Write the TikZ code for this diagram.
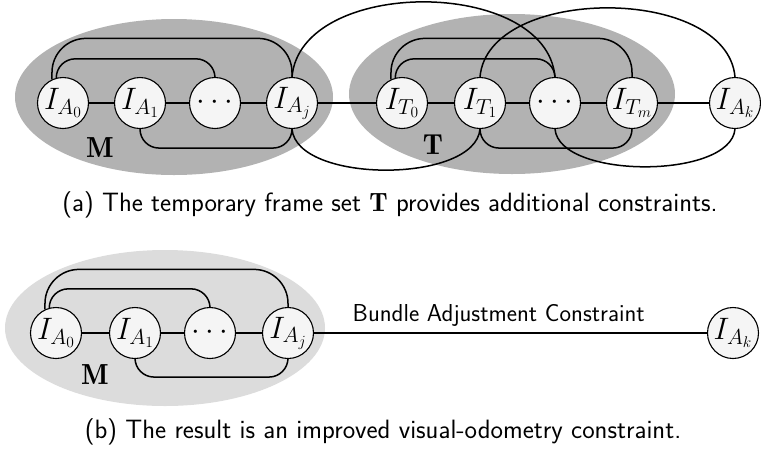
\RequirePackage{fix-cm}
\documentclass[tikz,border=0pt]{standalone}
\usepackage{fontspec}
\definecolor{setgray}{HTML}{B2B2B2}
\definecolor{setlight}{HTML}{DCDCDC}

\begin{document}
\begin{tikzpicture}[
        x=1pt,y=1pt,
        frame/.style={circle,minimum size=51pt,inner sep=0pt,draw=black,
          line width=1.1pt,fill=white!96!black,font=\fontsize{31}{34}\selectfont},
        link/.style={draw=black,line width=1.5pt},
        setlabel/.style={font=\fontsize{29}{32}\selectfont},
        caption/.style={font=\sffamily\fontsize{26.5}{30}\selectfont}
      ]
        \useasboundingbox (0,0) rectangle (761,-451);

        \fill[setgray] (174,-97) ellipse [x radius=159,y radius=78];
        \fill[setgray] (512,-94) ellipse [x radius=163,y radius=80];

        \node[frame] (a0) at (63,-103) {$I_{A_0}$};
        \node[frame] (a1) at (140,-103) {$I_{A_1}$};
        \node[frame] (ad) at (215,-103) {$\cdots$};
        \node[frame] (aj) at (292,-103) {$I_{A_j}$};
        \node[frame] (t0) at (402,-103) {$I_{T_0}$};
        \node[frame] (t1) at (480,-103) {$I_{T_1}$};
        \node[frame] (td) at (555,-103) {$\cdots$};
        \node[frame] (tm) at (632,-103) {$I_{T_m}$};
        \node[frame] (ak) at (735,-103) {$I_{A_k}$};

        \foreach \u/\v in {a0/a1,a1/ad,ad/aj,aj/t0,t0/t1,t1/td,td/tm,tm/ak}
          \draw[link] (\u) -- (\v);

        \foreach \s/\d/\e in {a0/ad/aj,t0/td/tm}{
          \draw[link,rounded corners=34pt] (\s.115) -- ++(0,41) -| (\e.north);
          \draw[link,rounded corners=19pt] (\s.105) -- ++(0,19) -| (\d.north);
        }
        \draw[link,rounded corners=19pt] (a1.south) -- ++(0,-19) -| (aj.south);
        \draw[link,rounded corners=19pt] (t1.south) -- ++(0,-19) -| (tm.south);

        \draw[link] (aj.north) to[out=85,in=95,looseness=.98] (td.north);
        \draw[link] (t1.north) to[out=85,in=95,looseness=.93] (ak.north);
        \draw[link] (aj.south) to[out=-85,in=-95,looseness=.75] (t1.south);
        \draw[link] (td.south) to[out=-85,in=-95,looseness=.72] (ak.south);

        \node[setlabel] (mset) at (100,-148) {$\mathbf{M}$};
        \node[setlabel] (tset) at (433,-145) {$\mathbf{T}$};

        \node[caption] (capa) at (390,-205)
          {(a) The temporary frame set $\mathbf{T}$ provides additional constraints.};

        \fill[setlight] (165,-328) ellipse [x radius=160,y radius=78];

        \node[frame] (b0) at (56,-333) {$I_{A_0}$};
        \node[frame] (b1) at (135,-333) {$I_{A_1}$};
        \node[frame] (bd) at (210,-333) {$\cdots$};
        \node[frame] (bj) at (288,-333) {$I_{A_j}$};
        \node[frame] (bk) at (733,-333) {$I_{A_k}$};

        \foreach \u/\v in {b0/b1,b1/bd,bd/bj}
          \draw[link] (\u) -- (\v);
        \draw[link,rounded corners=34pt] (b0.115) -- ++(0,40) -| (bj.north);
        \draw[link,rounded corners=19pt] (b0.105) -- ++(0,19) -| (bd.north);
        \draw[link,rounded corners=19pt] (b1.south) -- ++(0,-18) -| (bj.south);
        \draw[link] (bj) -- node[pos=.47,above=6pt,inner sep=0pt,
          font=\sffamily\fontsize{24.5}{28}\selectfont] (bundle)
          {Bundle Adjustment Constraint} (bk);

        \node[setlabel] (mres) at (95,-375) {$\mathbf{M}$};

        \node[caption] (capb) at (383,-432)
          {(b) The result is an improved visual-odometry constraint.};
      \end{tikzpicture}
\end{document}
